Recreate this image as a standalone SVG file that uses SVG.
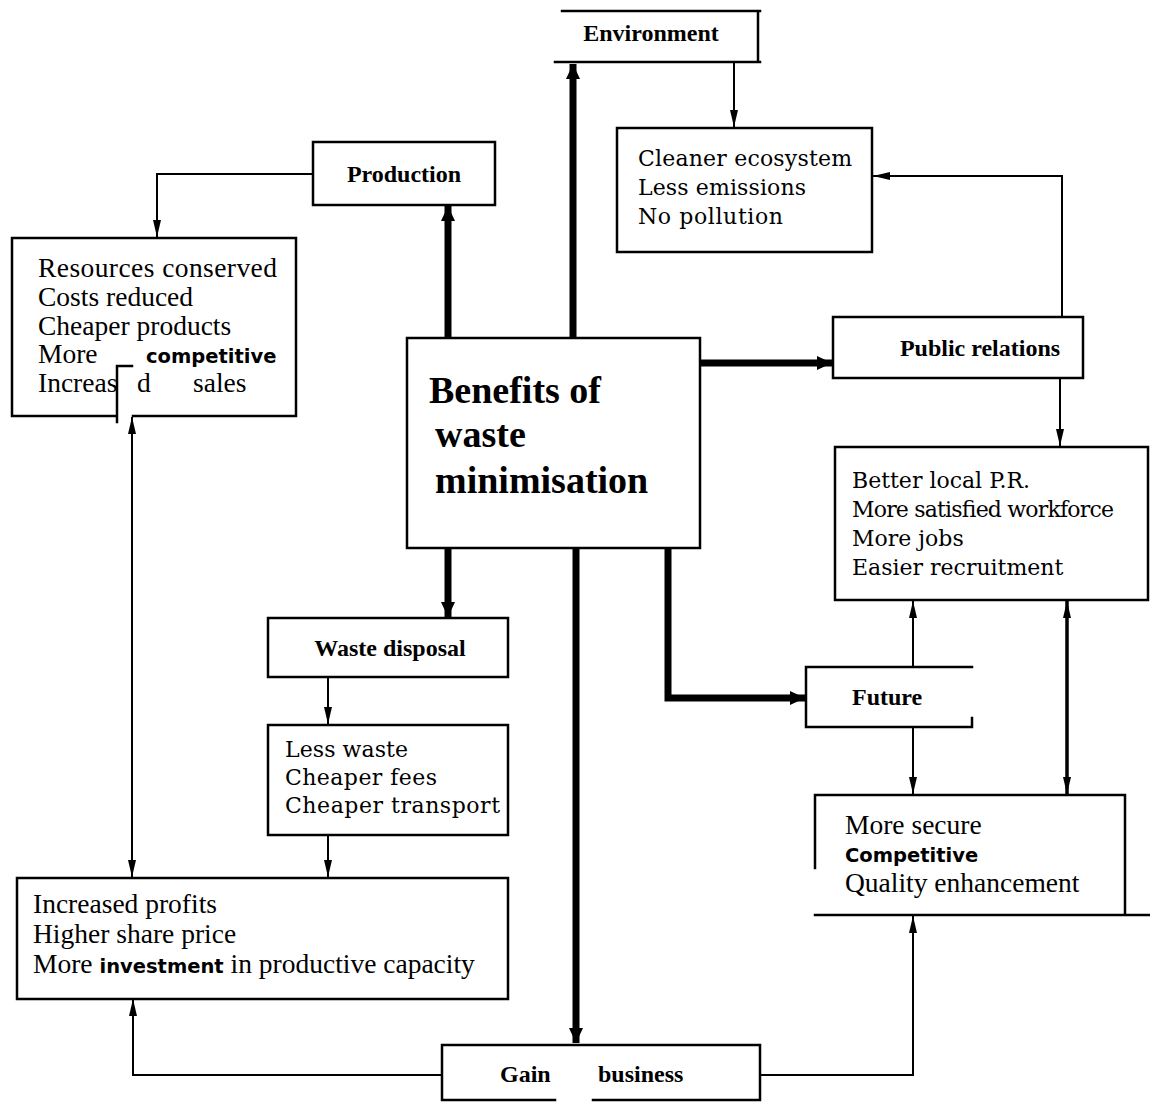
<svg xmlns="http://www.w3.org/2000/svg" width="1150" height="1103" viewBox="0 0 1150 1103">
  <style>
    .box { fill: none; stroke: #000; stroke-width: 2.5; stroke-linecap: square; }
    .bg { fill: #fff; }
    .thin { fill: none; stroke: #000; stroke-width: 2; }
    .mid { fill: none; stroke: #000; stroke-width: 3.5; }
    .thick { fill: none; stroke: #000; stroke-width: 7; }
    .label { font-family: "Liberation Serif", "Times New Roman", serif; font-weight: bold; font-size: 24px; fill: #000; }
    .title { font-family: "Liberation Serif", "Times New Roman", serif; font-weight: bold; font-size: 38px; fill: #000; }
    .times { font-family: "Liberation Serif", "Times New Roman", serif; font-size: 27.5px; fill: #000; }
    .souv { font-family: "DejaVu Serif", "Liberation Serif", serif; font-size: 22px; fill: #000; }
    .semi { font-family: "DejaVu Sans", "Liberation Sans", sans-serif; font-weight: bold; font-size: 19.5px; fill: #000; }
  </style>
  <defs>
    <marker id="arr" markerUnits="userSpaceOnUse" markerWidth="18" markerHeight="10" refX="17" refY="5" orient="auto-start-reverse">
      <path d="M0,1 L17,5 L0,9 Z" fill="#000"/>
    </marker>
    <marker id="arrThick" markerUnits="userSpaceOnUse" markerWidth="16" markerHeight="14" refX="15" refY="7" orient="auto-start-reverse">
      <path d="M0,0 L15,7 L0,14 Z" fill="#000"/>
    </marker>
  </defs>

  <rect width="1150" height="1103" class="bg"/>

  <!-- connectors -->
  <g id="connectors">
    <line class="thick" x1="573" y1="338" x2="573" y2="64" marker-end="url(#arrThick)"/>
    <line class="thin" x1="734" y1="62" x2="734" y2="127" marker-end="url(#arr)"/>
    <line class="thick" x1="448" y1="338" x2="448" y2="206" marker-end="url(#arrThick)"/>
    <path class="thin" d="M313,174 H157 V237" marker-end="url(#arr)"/>
    <line class="thick" x1="700" y1="363" x2="832" y2="363" marker-end="url(#arrThick)"/>
    <path class="thin" d="M1062,317 V176 H873" marker-end="url(#arr)"/>
    <line class="thin" x1="1060" y1="378" x2="1060" y2="446" marker-end="url(#arr)"/>
    <line class="thick" x1="448" y1="548" x2="448" y2="617" marker-end="url(#arrThick)"/>
    <line class="thin" x1="328" y1="677" x2="328" y2="724" marker-end="url(#arr)"/>
    <line class="thin" x1="328" y1="835" x2="328" y2="877" marker-end="url(#arr)"/>
    <line class="thick" x1="576" y1="548" x2="576" y2="1043" marker-end="url(#arrThick)"/>
    <path class="thick" d="M668,548 V698 H805" marker-end="url(#arrThick)"/>
    <line class="thin" x1="913" y1="667" x2="913" y2="601" marker-end="url(#arr)"/>
    <line class="thin" x1="913" y1="727" x2="913" y2="794" marker-end="url(#arr)"/>
    <line class="mid" x1="1067" y1="601" x2="1067" y2="794" marker-start="url(#arr)" marker-end="url(#arr)"/>
    <line class="thin" x1="132" y1="417" x2="132" y2="877" stroke-width="2.5" marker-start="url(#arr)" marker-end="url(#arr)"/>
    <path class="thin" d="M442,1075 H133 V999" marker-end="url(#arr)"/>
    <path class="thin" d="M760,1075 H913 V916" marker-end="url(#arr)"/>
  </g>

  <!-- Environment -->
  <g id="environment">
    <path class="box" d="M562,11 H760 M555,62 H760 M758,11 V62"/>
    <text class="label" x="651" y="41" text-anchor="middle">Environment</text>
  </g>

  <!-- Production -->
  <g id="production">
    <rect class="box" x="313" y="142" width="182" height="63"/>
    <text class="label" x="404" y="182" text-anchor="middle" font-size="25">Production</text>
  </g>

  <!-- Production outcomes -->
  <g id="production-outcomes">
    <path class="box" d="M12,238 H296 V416 H133 M117,416 H12 V238 M117,366 H132 M117,366 V422"/>
    <text class="times" x="38" y="277" textLength="239" lengthAdjust="spacing">Resources   conserved</text>
    <text class="times" x="38" y="306">Costs reduced</text>
    <text class="times" x="38" y="335">Cheaper products</text>
    <text class="times" x="38" y="363">More</text>
    <text class="semi" x="146" y="363">competitive</text>
    <text class="times" x="38" y="392">Increas</text>
    <text class="times" x="137" y="392">d</text>
    <text class="times" x="193" y="392">sales</text>
  </g>

  <!-- Environment outcomes -->
  <g id="environment-outcomes">
    <rect class="box" x="617" y="128" width="255" height="124"/>
    <text class="souv" x="638" y="166" textLength="214" lengthAdjust="spacing">Cleaner ecosystem</text>
    <text class="souv" x="638" y="195" textLength="168" lengthAdjust="spacing">Less emissions</text>
    <text class="souv" x="638" y="224" textLength="145" lengthAdjust="spacing">No pollution</text>
  </g>

  <!-- Central node -->
  <g id="benefits">
    <rect class="box" x="407" y="338" width="293" height="210"/>
    <text class="title" x="429" y="403">Benefits  of</text>
    <text class="title" x="435" y="447">waste</text>
    <text class="title" x="435" y="493">minimisation</text>
  </g>

  <!-- Public relations -->
  <g id="public-relations">
    <rect class="box" x="833" y="317" width="250" height="61"/>
    <text class="label" x="980" y="356" text-anchor="middle">Public  relations</text>
  </g>

  <!-- Public relations outcomes -->
  <g id="pr-outcomes">
    <rect class="box" x="835" y="447" width="313" height="153"/>
    <text class="souv" x="852" y="488">Better local P.R.</text>
    <text class="souv" x="852" y="517" textLength="262" lengthAdjust="spacing">More satisfied workforce</text>
    <text class="souv" x="852" y="546">More jobs</text>
    <text class="souv" x="852" y="575">Easier recruitment</text>
  </g>

  <!-- Waste disposal -->
  <g id="waste-disposal">
    <rect class="box" x="268" y="618" width="240" height="59"/>
    <text class="label" x="390" y="656" text-anchor="middle" font-size="25">Waste disposal</text>
  </g>

  <!-- Waste disposal outcomes -->
  <g id="waste-outcomes">
    <rect class="box" x="268" y="725" width="240" height="110"/>
    <text class="souv" x="285" y="757" textLength="123" lengthAdjust="spacing">Less waste</text>
    <text class="souv" x="285" y="785" textLength="152" lengthAdjust="spacing">Cheaper fees</text>
    <text class="souv" x="285" y="813" textLength="215" lengthAdjust="spacing">Cheaper  transport</text>
  </g>

  <!-- Future -->
  <g id="future">
    <path class="box" d="M806,667 H972 M806,667 V727 H972 V718"/>
    <text class="label" x="852" y="705">Future</text>
  </g>

  <!-- Future outcomes -->
  <g id="future-outcomes">
    <path class="box" d="M815,868 V795 H1125 V915 M815,915 H1150"/>
    <text class="times" x="845" y="834">More secure</text>
    <text class="semi" x="845" y="862">Competitive</text>
    <text class="times" x="845" y="892">Quality  enhancement</text>
  </g>

  <!-- Financial outcomes -->
  <g id="financial-outcomes">
    <rect class="box" x="17" y="878" width="491" height="121"/>
    <text class="times" x="33" y="913">Increased  profits</text>
    <text class="times" x="33" y="943">Higher share price</text>
    <text class="times" x="33" y="973">More <tspan class="semi">investment</tspan> in  productive  capacity</text>
  </g>

  <!-- Gain business -->
  <g id="gain-business">
    <path class="box" d="M442,1045 H760 V1100 H593 M555,1100 H442 V1045"/>
    <text class="label" x="500" y="1082">Gain</text>
    <text class="label" x="598" y="1082">business</text>
  </g>
</svg>
